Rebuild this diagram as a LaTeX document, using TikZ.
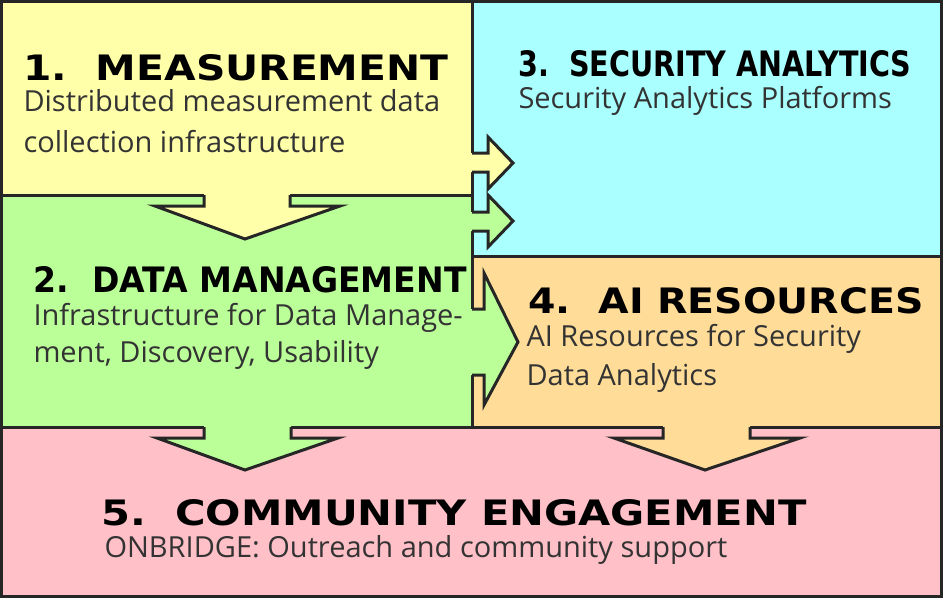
\documentclass[tikz,border=0pt]{standalone}
\usepackage{fontspec}
\setmainfont{Open Sans}
\newfontfamily\titlefont{DejaVu Sans}
\definecolor{cyel}{HTML}{FFFFAA}
\definecolor{ccya}{HTML}{AAFFFF}
\definecolor{cgrn}{HTML}{BBFF99}
\definecolor{cora}{HTML}{FFDD99}
\definecolor{cpnk}{HTML}{FFC0C8}
\definecolor{ctxt}{HTML}{333333}
\newcommand{\ttlw}[2]{\resizebox{#1pt}{26pt}{\titlefont\bfseries #2}}
\begin{document}
\begin{tikzpicture}[x=1pt,y=-1pt,line width=3pt,line join=miter,
  box/.style={draw=black!85},
  edge/.style={draw=black!85},
  ttl/.style={anchor=base west,inner sep=0},
  bod/.style={anchor=base west,inner sep=0,text=ctxt,font=\fontsize{29}{38}\selectfont}]
\useasboundingbox (0,0) rectangle (943,598);
\path[box,fill=cyel] (1.5,1.5) rectangle (472,195);
\path[box,fill=ccya] (472,1.5) rectangle (941.5,256);
\path[box,fill=cgrn] (1.5,195) rectangle (472,427);
\path[box,fill=cora] (472,256) rectangle (941.5,427);
\path[box,fill=cpnk] (1.5,427) rectangle (941.5,596.5);
% arrow 1 -> 2
\fill[cyel] (204,190) -- (204,206) -- (155,206) -- (245,239) -- (340,206) -- (290,206) -- (290,190) -- cycle;
\draw[edge] (204,195) -- (204,206) -- (155,206) -- (245,239) -- (340,206) -- (290,206) -- (290,195);
% arrow 1 -> 3
\fill[cyel] (466,153) -- (488,153) -- (488,137) -- (513,163) -- (488,189) -- (488,172) -- (466,172) -- cycle;
\draw[edge] (472,153) -- (488,153) -- (488,137) -- (513,163) -- (488,189) -- (488,172) -- (472,172);
% arrow 2 -> 3
\fill[cgrn] (466,212) -- (488,212) -- (488,195) -- (513,221) -- (488,247) -- (488,231) -- (466,231) -- cycle;
\draw[edge] (472,212) -- (488,212) -- (488,195) -- (513,221) -- (488,247) -- (488,231) -- (472,231);
% arrow 2 -> 4
\fill[cgrn] (466,309) -- (484,309) -- (484,273) -- (518,342) -- (484,405) -- (484,375) -- (466,375) -- cycle;
\draw[edge] (472,309) -- (484,309) -- (484,273) -- (518,342) -- (484,405) -- (484,375) -- (472,375);
% arrow 2 -> 5
\fill[cgrn] (204,422) -- (204,438) -- (157,438) -- (245,470) -- (338,438) -- (291,438) -- (291,422) -- cycle;
\draw[edge] (204,427) -- (204,438) -- (157,438) -- (245,470) -- (338,438) -- (291,438) -- (291,427);
% arrow 4 -> 5
\fill[cora] (663,422) -- (663,438) -- (614,438) -- (705,470) -- (800,438) -- (750,438) -- (750,422) -- cycle;
\draw[edge] (663,427) -- (663,438) -- (614,438) -- (705,470) -- (800,438) -- (750,438) -- (750,427);
% texts
\node[ttl] (t1) at (22,80) {\ttlw{425}{1.\ \ MEASUREMENT}};
\node[bod] (b1a) at (22,111) {Distributed measurement data};
\node[bod] (b1b) at (22,152) {collection infrastructure};
\node[ttl] (t3) at (517,76) {\ttlw{393}{3.\ \ SECURITY ANALYTICS}};
\node[bod] (b3) at (517,108) {Security Analytics Platforms};
\node[ttl] (t2) at (32,292) {\ttlw{433}{2.\ \ DATA MANAGEMENT}};
\node[bod] (b2a) at (32,325) {Infrastructure for Data Manage-};
\node[bod] (b2b) at (32,362) {ment, Discovery, Usability};
\node[ttl] (t4) at (527,313) {\ttlw{395}{4.\ \ AI RESOURCES}};
\node[bod] (b4a) at (525,346) {AI Resources for Security};
\node[bod] (b4b) at (525,385) {Data Analytics};
\node[ttl] (t5) at (100,525) {\ttlw{705}{5.\ \ COMMUNITY ENGAGEMENT}};
\node[bod] (b5) at (103,557) {ONBRIDGE: Outreach and community support};
\end{tikzpicture}
\end{document}
